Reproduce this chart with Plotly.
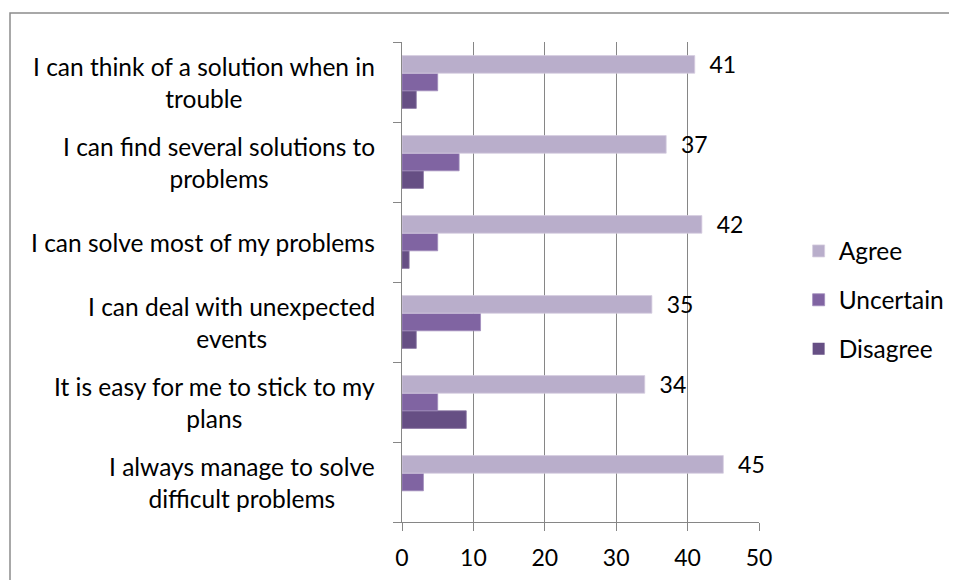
import plotly.graph_objects as go

# bottom-to-top order, as plotly stacks categories on a horizontal bar chart
statements = [
    "I always manage to solve<br>difficult problems",
    "It is easy for me to stick to my<br>plans",
    "I can deal with unexpected<br>events",
    "I can solve most of my problems",
    "I can find several solutions to<br>problems",
    "I can think of a solution when in<br>trouble",
]
agree = [45, 34, 35, 42, 37, 41]
uncertain = [3, 5, 11, 5, 8, 5]
disagree = [0, 9, 2, 1, 3, 2]

_FONT = "Lato, Calibri, sans-serif"
_GRID = "#868686"


def _edge(vals):
    # no outline on empty bars, otherwise a sliver shows at zero
    return [0 if v == 0 else 0.8 for v in vals]


fig = go.Figure()
# plotly draws the first trace at the bottom of each group, so add them reversed
fig.add_trace(go.Bar(
    y=statements, x=disagree, name="Disagree", orientation="h",
    marker=dict(color="#664F84", line=dict(color="#8A76A3", width=_edge(disagree))),
    legendgroup="c", legendrank=3))
fig.add_trace(go.Bar(
    y=statements, x=uncertain, name="Uncertain", orientation="h",
    marker=dict(color="#8064A2", line=dict(color="#A08BBB", width=_edge(uncertain))),
    legendgroup="b", legendrank=2))
fig.add_trace(go.Bar(
    y=statements, x=agree, name="Agree", orientation="h",
    marker=dict(color="#B9AECB", line=dict(color="#D5CDE0", width=_edge(agree))),
    texttemplate="\u00a0\u00a0%{x}", textposition="outside",
    constraintext="none", cliponaxis=False,
    textfont=dict(size=23, color="#000000", family=_FONT),
    legendgroup="a", legendrank=1))

# category labels: right-aligned block, centred lines (Excel style)
for s in statements:
    fig.add_annotation(text=s, xref="paper", x=0, xshift=-25, xanchor="right",
                       yref="y", y=s, showarrow=False, align="center",
                       font=dict(size=24.5, color="#000000", family=_FONT))

# outer chart frame (runs off the right and bottom of the picture)
fig.add_shape(type="rect", xref="paper", yref="paper",
              x0=(10 - 402) / 357, x1=2.0, y0=-1.0, y1=1 + (42 - 13) / 480,
              line=dict(color="#8C8C8C", width=1.5), fillcolor="rgba(0,0,0,0)",
              layer="below")

# page body keeps an 8px margin, so the figure is 8px smaller and shifted
fig.update_layout(
    width=949, height=572,
    margin=dict(l=394, r=198, t=34, b=58, autoexpand=False),
    paper_bgcolor="white", plot_bgcolor="white",
    barmode="group", bargap=0.34, bargroupgap=0,
    font=dict(family=_FONT, size=23, color="#000000"),
    legend=dict(x=1.111, xanchor="left", y=0.4625, yanchor="middle",
                traceorder="grouped", tracegroupgap=14,
                font=dict(size=24.5, family=_FONT)),
    xaxis=dict(range=[0, 50], dtick=10, showgrid=True, gridcolor=_GRID,
               gridwidth=1, showline=True, linecolor=_GRID, linewidth=1,
               ticks="outside", ticklen=8, tickcolor=_GRID, zeroline=False,
               ticklabelstandoff=7, tickfont=dict(size=23), automargin=False),
    yaxis=dict(showticklabels=False, showline=True, linecolor=_GRID,
               linewidth=1, ticks="outside", ticklen=8, tickcolor=_GRID,
               tickson="boundaries", showgrid=False, automargin=False),
)

fig.write_html("out.html")
